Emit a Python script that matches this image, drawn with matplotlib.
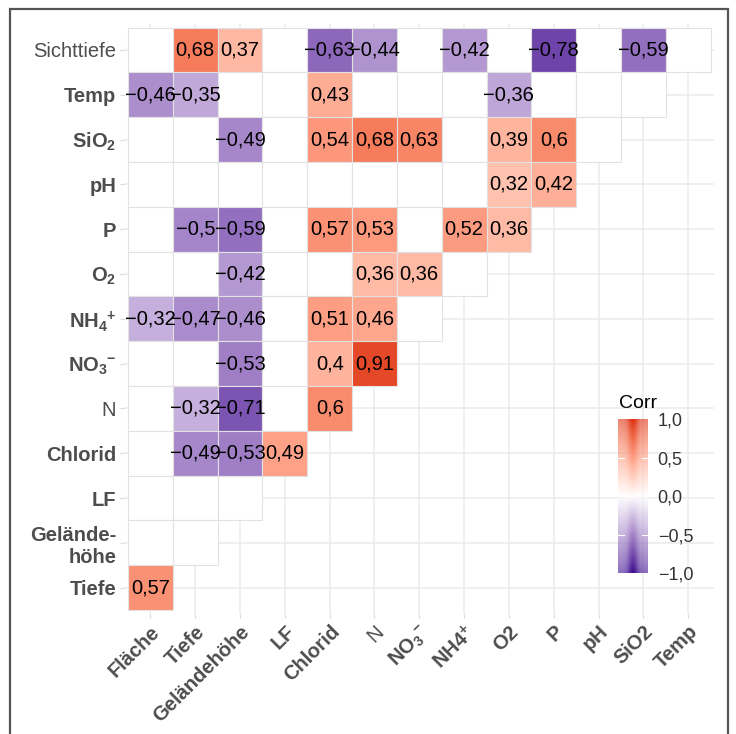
import numpy as np
import matplotlib.pyplot as plt
from matplotlib.patches import Rectangle

plt.rcParams['font.family'] = ['Liberation Sans', 'DejaVu Sans']
plt.rcParams['mathtext.fontset'] = 'custom'
plt.rcParams['mathtext.rm'] = 'Liberation Sans'
plt.rcParams['mathtext.bf'] = 'Liberation Sans:bold'
plt.rcParams['mathtext.it'] = 'Liberation Sans:italic'

# Spalten (x) und Zeilen (y, von oben nach unten)
x_labels = ["Fläche", "Tiefe", "Geländehöhe", "LF", "Chlorid", "N",
            r"$\mathbf{NO_3{}^{-}}$", r"$\mathbf{NH4^{+}}$", "O2", "P", "pH", "SiO2", "Temp"]
y_labels = ["Sichttiefe", "Temp", r"$\mathbf{SiO_2}$", "pH", "P", r"$\mathbf{O_2}$",
            r"$\mathbf{NH_4{}^{+}}$", r"$\mathbf{NO_3{}^{-}}$", "N", "Chlorid", "LF",
            "Gelände-\nhöhe", "Tiefe"]
plain_labels = ["Sichttiefe", "N"]

# signifikante Korrelationen, None = nicht signifikant
r_values = [
    [None, 0.68, 0.37, None, -0.63, -0.44, None, -0.42, None, -0.78, None, -0.59, None],
    [-0.46, -0.35, None, None, 0.43, None, None, None, -0.36, None, None, None],
    [None, None, -0.49, None, 0.54, 0.68, 0.63, None, 0.39, 0.6, None],
    [None, None, None, None, None, None, None, None, 0.32, 0.42],
    [None, -0.5, -0.59, None, 0.57, 0.53, None, 0.52, 0.36],
    [None, None, -0.42, None, None, 0.36, 0.36, None],
    [-0.32, -0.47, -0.46, None, 0.51, 0.46, None],
    [None, None, -0.53, None, 0.4, 0.91],
    [None, -0.32, -0.71, None, 0.6],
    [None, -0.49, -0.53, 0.49],
    [None, None, None],
    [None, None],
    [0.57],
]

cb_ticks = [-1.0, -0.5, 0.0, 0.5, 1.0]
LOW, MID, HIGH = "#3D0C91", "#FFFFFF", "#DE2E10"

# Farbverlauf im Lab-Raum (wie scale_fill_gradient2)
M = np.array([[0.4124, 0.3576, 0.1805],
              [0.2126, 0.7152, 0.0722],
              [0.0193, 0.1192, 0.9505]])
WHITE = np.array([0.95047, 1.0, 1.08883])


def hex_to_lab(h):
    rgb = np.array([int(h[i:i + 2], 16) for i in (1, 3, 5)]) / 255
    lin = np.where(rgb <= 0.04045, rgb / 12.92, ((rgb + 0.055) / 1.055) ** 2.4)
    xyz = lin @ M.T / WHITE
    f = np.where(xyz > 0.008856, np.cbrt(xyz), 7.787 * xyz + 16 / 116)
    return np.array([116 * f[1] - 16, 500 * (f[0] - f[1]), 200 * (f[1] - f[2])])


def lab_to_rgb(lab):
    L, a, b = lab[..., 0], lab[..., 1], lab[..., 2]
    fy = (L + 16) / 116
    f = np.stack([fy + a / 500, fy, fy - b / 200], -1)
    xyz = np.where(f > 0.206893, f ** 3, (f - 16 / 116) / 7.787) * WHITE
    lin = np.clip(xyz @ np.linalg.inv(M).T, 0, None)
    rgb = np.where(lin <= 0.0031308, 12.92 * lin, 1.055 * lin ** (1 / 2.4) - 0.055)
    return np.clip(rgb, 0, 1)


lab_low, lab_mid, lab_high = hex_to_lab(LOW), hex_to_lab(MID), hex_to_lab(HIGH)


def corr_color(v):
    v = np.atleast_1d(np.asarray(v, float))
    t = np.abs(v)[:, None]
    end = np.where(v[:, None] < 0, lab_low, lab_high)
    return lab_to_rgb(lab_mid + t * (end - lab_mid))


def fmt(v):
    return f"{round(v, 2):g}".replace(".", ",").replace("-", "\u2212")


fig = plt.figure(figsize=(7.36, 7.34), dpi=100)
ax = fig.add_axes([124.5 / 736, 1 - 613.6 / 734, 589.6 / 736, 589.6 / 734])

n = len(x_labels)
for k, row in enumerate(r_values):
    y = n - 1 - k
    for j, v in enumerate(row):
        fc = "white" if v is None else corr_color(v)[0]
        ax.add_patch(Rectangle((j - 0.5, y - 0.5), 1, 1, facecolor=fc,
                               edgecolor="#E2E2E2", lw=0.8, zorder=2))
        if v is not None:
            ax.text(j, y, fmt(v), ha="center", va="center", fontsize=14.5,
                    color="black", zorder=3)

ax.set_xlim(-0.58, n - 0.42)
ax.set_ylim(-0.58, n - 0.42)
ax.set_xticks(range(n))
ax.set_yticks(range(n))
ax.set_xticklabels(x_labels, rotation=45, ha="right", va="top",
                   rotation_mode="anchor", fontsize=14.5, color="#4D4D4D")
ax.set_yticklabels(y_labels[::-1], fontsize=14.5, color="#4D4D4D")
for lab in ax.get_xticklabels() + ax.get_yticklabels():
    txt = lab.get_text()
    lab.set_fontweight("normal" if txt in plain_labels else "bold")
ax.tick_params(length=3, width=0.8, color="#DADADA", pad=3)
ax.grid(True, color="#EBEBEB", lw=1.1)
ax.set_axisbelow(True)
for s in ax.spines.values():
    s.set_visible(False)

# Legende
cax = fig.add_axes([618 / 736, 1 - 573 / 734, 30 / 736, 154 / 734])
grad = np.linspace(-1, 1, 300)
xs = np.linspace(0, 1, 30)
img = np.zeros((grad.size, xs.size, 4))
img[..., :3] = corr_color(grad)[:, None, :]
img[..., 3] = (0.6 + 0.4 * np.exp(-((xs - 0.5) / 0.18) ** 2))[None, :]
cax.imshow(img, extent=[0, 1, -1, 1], origin="lower", aspect="auto")
for t in [-0.5, 0.5]:
    cax.plot([0, 0.2], [t, t], color="white", lw=0.8)
    cax.plot([0.8, 1], [t, t], color="white", lw=0.8)
cax.set_xlim(0, 1)
cax.set_ylim(-1, 1)
cax.set_xticks([])
cax.yaxis.tick_right()
cax.set_yticks(cb_ticks)
cax.set_yticklabels([f"{t:.1f}".replace(".", ",").replace("-", "\u2212") for t in cb_ticks],
                    fontsize=13, color="#333333")
cax.tick_params(length=0, pad=7)
cax.patch.set_alpha(0)
for s in cax.spines.values():
    s.set_visible(False)
fig.text(619 / 736, 1 - 408 / 734, "Corr", fontsize=14, ha="left", va="baseline")

fig.add_artist(Rectangle((9.5 / 736, -0.05), (728 - 9.5) / 736, 1.05 - 8.5 / 734,
                         transform=fig.transFigure, fill=False,
                         edgecolor="#555555", lw=1.6))

fig.savefig("out.png", dpi=100)
